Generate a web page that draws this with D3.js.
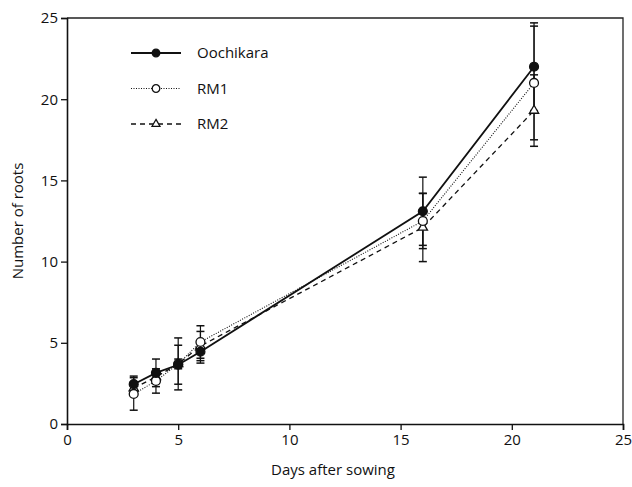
<!DOCTYPE html>
<html>
<head>
<meta charset="utf-8">
<script src="https://cdn.jsdelivr.net/npm/d3@7"></script>
<style>
  body { margin: 0; background: #fff; }
  text { font-family: "Open Sans", "Liberation Sans", Arial, sans-serif; fill: #111; }
</style>
</head>
<body>
<div id="chart"></div>
<script>
// data
const days = [3, 4, 5, 6, 16, 21];
const seriesNames = ['Oochikara', 'RM1', 'RM2'];
const oochikaraMean = [2.45, 3.15, 3.65, 4.45, 13.1, 22.0];
const oochikaraSE = [0.5, 0.85, 1.2, 0.7, 2.1, 2.7];
const rm1Mean = [1.85, 2.65, 3.7, 5.05, 12.5, 21.0];
const rm1SE = [1.0, 0.75, 0.3, 1.0, 1.7, 3.5];
const rm2Mean = [2.2, 2.9, 3.7, 4.8, 12.1, 19.3];
const rm2SE = [0.4, 0.4, 1.6, 0.9, 2.1, 2.2];
const xTicks = [0, 5, 10, 15, 20, 25];
const yTicks = [0, 5, 10, 15, 20, 25];

const width = 632, height = 487;
const margin = { top: 18, right: 9, bottom: 63, left: 67 };
const w = width - margin.left - margin.right;
const h = height - margin.top - margin.bottom;

const svg = d3.select('#chart')
  .append('svg')
  .attr('width', width)
  .attr('height', height);

const g = svg.append('g')
  .attr('transform', `translate(${margin.left},${margin.top})`);

const x = d3.scaleLinear().domain([0, 25]).range([0, w]);
const y = d3.scaleLinear().domain([0, 25]).range([h, 0]);

// frame (top + right)
g.append('path')
  .attr('d', `M0,0H${w}V${h}`)
  .attr('fill', 'none')
  .attr('stroke', '#222')
  .attr('stroke-width', 1.3);

// axes
const xAxis = g.append('g')
  .attr('transform', `translate(0,${h})`)
  .call(d3.axisBottom(x).tickValues(xTicks).tickSize(6).tickPadding(4));
const yAxis = g.append('g')
  .call(d3.axisLeft(y).tickValues(yTicks).tickSize(6).tickPadding(3));

for (let ax of [xAxis, yAxis]) {
  ax.select('.domain').attr('stroke', '#111').attr('stroke-width', 1.6);
  ax.selectAll('.tick line').attr('stroke', '#111').attr('stroke-width', 1.3);
  ax.selectAll('.tick text')
    .attr('font-size', 15)
    .attr('font-family', '"Open Sans", "Liberation Sans", Arial, sans-serif')
    .attr('fill', '#111');
}

// axis titles
svg.append('text')
  .attr('x', 333)
  .attr('y', 475)
  .attr('text-anchor', 'middle')
  .attr('font-size', 15)
  .text('Days after sowing');

svg.append('text')
  .attr('transform', `translate(23,${margin.top + h / 2}) rotate(-90)`)
  .attr('text-anchor', 'middle')
  .attr('font-size', 15)
  .text('Number of roots');

const series = [
  { name: seriesNames[0], mean: oochikaraMean, se: oochikaraSE, dash: null, sw: 1.8, marker: 'filled' },
  { name: seriesNames[1], mean: rm1Mean, se: rm1SE, dash: '1,1.5', sw: 1.1, marker: 'open' },
  { name: seriesNames[2], mean: rm2Mean, se: rm2SE, dash: '5,4', sw: 1.3, marker: 'triangle' },
];

const line = d3.line()
  .x((d) => x(d.day))
  .y((d) => y(d.v));

function drawMarker(sel, type, size) {
  if (type === 'triangle') {
    sel.append('path')
      .attr('d', d3.symbol().type(d3.symbolTriangle).size(size * 0.6))
      .attr('fill', '#fff')
      .attr('stroke', '#111')
      .attr('stroke-width', 1.3);
  } else {
    sel.append('circle')
      .attr('r', Math.sqrt(size / Math.PI))
      .attr('fill', type === 'filled' ? '#111' : '#fff')
      .attr('stroke', '#111')
      .attr('stroke-width', 1.3);
  }
}

// error bars first
series.slice().reverse().forEach((s) => {
  const pts = days.map((d, i) => ({ day: d, v: s.mean[i], se: s.se[i] }));
  const eb = g.append('g');
  eb.selectAll('line.bar')
    .data(pts)
    .enter()
    .append('line')
    .attr('x1', (d) => x(d.day))
    .attr('x2', (d) => x(d.day))
    .attr('y1', (d) => y(d.v - d.se))
    .attr('y2', (d) => y(d.v + d.se))
    .attr('stroke', '#111')
    .attr('stroke-width', 1.2);
  for (let k of [-1, 1]) {
    eb.selectAll(`line.cap${k}`)
      .data(pts)
      .enter()
      .append('line')
      .attr('x1', (d) => x(d.day) - 4)
      .attr('x2', (d) => x(d.day) + 4)
      .attr('y1', (d) => y(d.v + k * d.se))
      .attr('y2', (d) => y(d.v + k * d.se))
      .attr('stroke', '#111')
      .attr('stroke-width', 1.5);
  }
});

// lines and markers (RM2 at the bottom, Oochikara on top)
series.slice().reverse().forEach((s) => {
  const pts = days.map((d, i) => ({ day: d, v: s.mean[i] }));
  g.append('path')
    .datum(pts)
    .attr('d', line)
    .attr('fill', 'none')
    .attr('stroke', '#111')
    .attr('stroke-width', s.sw)
    .attr('stroke-dasharray', s.dash);
  g.selectAll(null)
    .data(pts)
    .enter()
    .append('g')
    .attr('transform', (d) => `translate(${x(d.day)},${y(d.v)})`)
    .each(function () { drawMarker(d3.select(this), s.marker, 62); });
});

// legend
const legend = svg.append('g').attr('transform', 'translate(131,53)');
series.forEach((s, i) => {
  const row = legend.append('g').attr('transform', `translate(0,${i * 35.5})`);
  row.append('line')
    .attr('x1', 0).attr('x2', 50)
    .attr('stroke', '#111')
    .attr('stroke-width', s.sw)
    .attr('stroke-dasharray', s.dash);
  const m = row.append('g').attr('transform', 'translate(25,0)');
  drawMarker(m, s.marker, 45);
  row.append('text')
    .attr('x', 66)
    .attr('y', 5)
    .attr('font-size', 15)
    .text(s.name);
});
</script>
</body>
</html>
